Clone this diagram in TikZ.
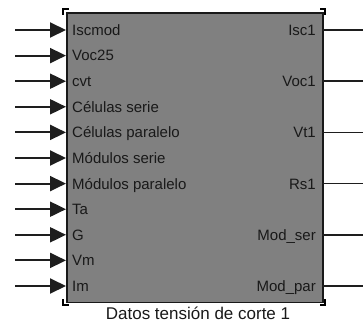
\documentclass[tikz,border=0pt]{standalone}
\usepackage{fontspec}
\setmainfont{Liberation Sans}
\usetikzlibrary{arrows.meta}
\definecolor{blockgray}{RGB}{128,128,128}
\definecolor{wiregray}{RGB}{30,30,30}
\begin{document}
\begin{tikzpicture}[x=1pt,y=-1pt,
  lab/.style={font=\fontsize{15}{18}\selectfont, text=black!90, inner sep=0pt},
  caption/.style={font=\fontsize{17}{20}\selectfont, text=black!90, inner sep=0pt},
  inwire/.style={line width=2pt, draw=wiregray, -{Triangle[length=16pt,width=15pt]}},
  outwire/.style={line width=1.4pt, draw=wiregray},
  blockbox/.style={draw=black!90, line width=1.5pt, fill=blockgray, inner sep=0pt, minimum width=256pt, minimum height=289pt},
  handle/.style={fill=black},
  handlein/.style={fill=white}]
\useasboundingbox (0,0) rectangle (363,323);
% selection handles
\fill[handle] (62,8.5) rectangle (68.5,15);
\fill[handlein] (64,10.5) rectangle (68.5,15);
\fill[handle] (326,8.5) rectangle (319.5,15);
\fill[handlein] (324,10.5) rectangle (319.5,15);
\fill[handle] (62,305.5) rectangle (68.5,299);
\fill[handlein] (64,303.5) rectangle (68.5,299);
\fill[handle] (326,305.5) rectangle (319.5,299);
\fill[handlein] (324,303.5) rectangle (319.5,299);
% block
\node[blockbox, anchor=north west] (blk) at (66,12.5) {};
% inputs
\foreach \i/\t in {0/Iscmod,1/Voc25,2/cvt,3/Células serie,4/Células paralelo,5/Módulos serie,6/Módulos paralelo,7/Ta,8/G,9/Vm,10/Im}{
  \pgfmathsetmacro{\yy}{30+25.6*\i}
  \coordinate (s\i) at (15,\yy);
  \coordinate (p\i) at (66,\yy);
  \draw[inwire] (s\i) -- (p\i);
  \node[lab, anchor=base west] (in\i) at (72,\yy+5.4) {\t};
}
% outputs
\foreach \j/\t in {0/Isc1,1/Voc1,2/Vt1,3/Rs1,4/Mod\_ser,5/Mod\_par}{
  \pgfmathsetmacro{\yy}{30+51.2*\j}
  \coordinate (q\j) at (322,\yy);
  \coordinate (e\j) at (363,\yy);
  \draw[outwire] (q\j) -- (e\j);
  \node[lab, anchor=base east] (out\j) at (316,\yy+5.4) {\t};
}
\node[caption, anchor=base] (cap) at (198,319.5) {Datos tensión de corte 1};
\end{tikzpicture}
\end{document}
